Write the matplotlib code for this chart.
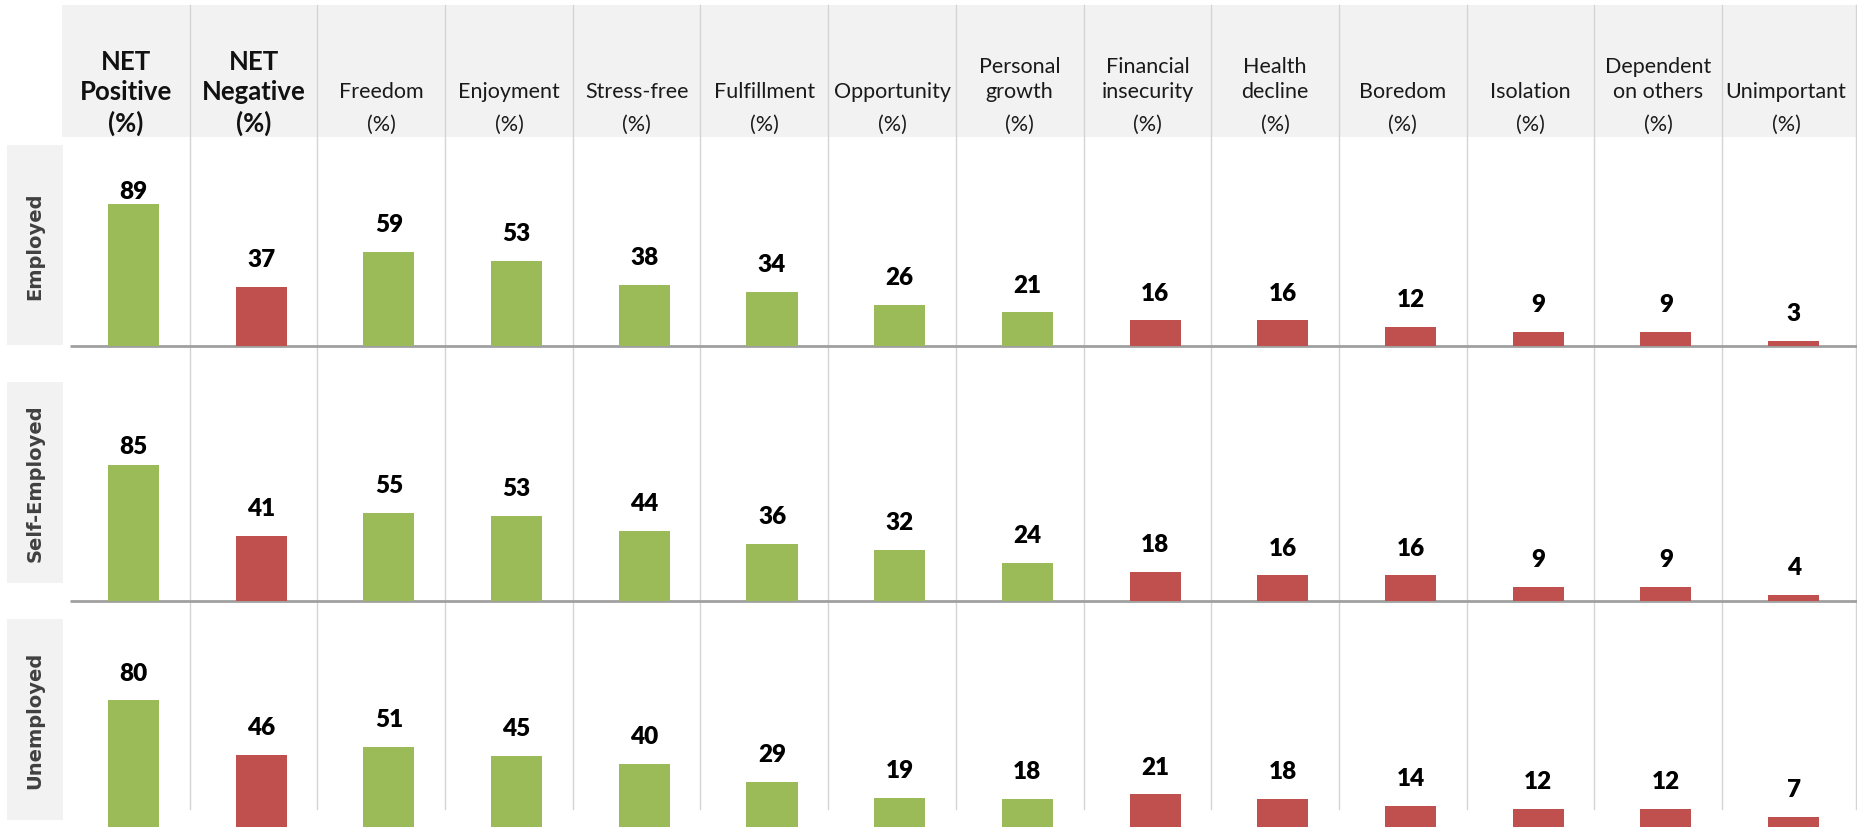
import numpy as np
import matplotlib.pyplot as plt
from matplotlib.patches import Rectangle

# categories and values
columns = ["NET\nPositive", "NET\nNegative", "Freedom", "Enjoyment", "Stress-free",
           "Fulfillment", "Opportunity", "Personal\ngrowth", "Financial\ninsecurity",
           "Health\ndecline", "Boredom", "Isolation", "Dependent\non others", "Unimportant"]
tone = ["pos", "neg", "pos", "pos", "pos", "pos", "pos", "pos",
        "neg", "neg", "neg", "neg", "neg", "neg"]
groups = ["Employed", "Self-Employed", "Unemployed"]
employed = [89, 37, 59, 53, 38, 34, 26, 21, 16, 16, 12, 9, 9, 3]
self_employed = [85, 41, 55, 53, 44, 36, 32, 24, 18, 16, 16, 9, 9, 4]
unemployed = [80, 46, 51, 45, 40, 29, 19, 18, 21, 18, 14, 12, 12, 7]

GREEN = "#9bbb59"
RED = "#c0504d"
BAND = "#f2f2f2"
GRID = "#d4d4d4"

W, H = 1858, 828
fig = plt.figure(figsize=(W / 100, H / 100), dpi=100)

# pixel-space layer for the table frame
bg = fig.add_axes([0, 0, 1, 1])
bg.set_xlim(0, W)
bg.set_ylim(H, 0)
bg.axis("off")

x0 = 62.0
cw = 127.7
ncol = len(columns)
bg.add_patch(Rectangle((x0, 6), W - 2 - x0, 132, color=BAND, lw=0))

for k in range(1, ncol):
    bg.plot([x0 + k * cw] * 2, [6, 810], color=GRID, lw=1.0)
bg.plot([1856, 1856], [6, 810], color=GRID, lw=1.0)

# header text
for k, name in enumerate(columns):
    cx = x0 + (k + 0.5) * cw
    lines = name.split("\n")
    if name.startswith("NET"):
        for ln, y in zip(lines + ["(%)"], [62, 92, 123]):
            bg.text(cx, y, ln, ha="center", va="center", fontsize=18.5,
                    fontweight="bold", family="Lato", color="#111111")
    else:
        ys = [92] if len(lines) == 1 else [67, 92]
        for ln, y in zip(lines, ys):
            bg.text(cx, y, ln, ha="center", va="center", fontsize=15.5,
                    family="Lato", color="#1a1a1a")
        bg.text(cx, 125, "(%)", ha="center", va="center", fontsize=15.5,
                family="Lato", color="#1a1a1a")

# row label boxes
boxes = [(146, 346), (383, 584), (620, 821)]
for g, (top, bot) in zip(groups, boxes):
    bg.add_patch(Rectangle((7, top), 56, bot - top, color=BAND, lw=0))
    bg.text(35, (top + bot) / 2, g, rotation=90, ha="center", va="center",
            fontsize=14, fontweight="bold", family="DejaVu Sans", color="#404040")

baselines = [347, 602, 829]
for b in baselines[:2]:
    bg.plot([70, W], [b, b], color="#a0a0a0", lw=2.0, solid_capstyle="butt")

# bar panels
ppu = 1.596  # pixels per percentage point
colors = [GREEN if t == "pos" else RED for t in tone]
xs = np.arange(ncol)
for vals, base in zip([employed, self_employed, unemployed], baselines):
    top = base - 100 * ppu
    ax = fig.add_axes([x0 / W, 1 - base / H, ncol * cw / W, (base - top) / H])
    ax.patch.set_visible(False)
    ax.bar(xs, vals, width=0.40, color=colors)
    ax.set_xlim(-0.56, ncol - 0.56)
    ax.set_ylim(0, 100)
    ax.axis("off")
    for x, v in zip(xs, vals):
        ax.text(x, min(v + 17.5, 97.3), str(v), ha="center", va="center",
                fontsize=17.5, fontweight="heavy", family="Lato", color="black",
                clip_on=False)

fig.savefig("out.png", dpi=100)
